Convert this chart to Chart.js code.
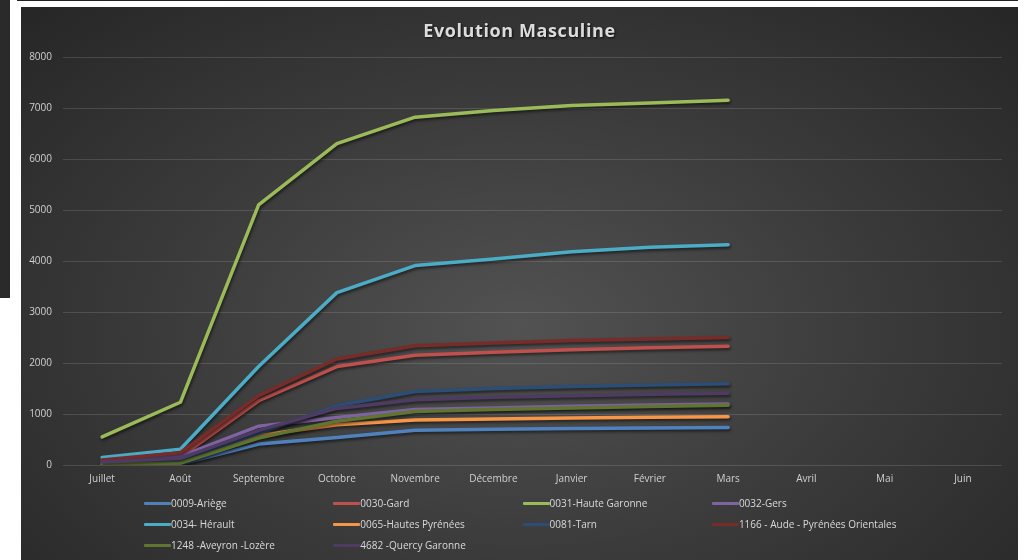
<!DOCTYPE html>
<html lang="fr">
<head>
<meta charset="utf-8">
<title>Evolution Masculine</title>
<script src="https://cdn.jsdelivr.net/npm/chart.js@4/dist/chart.umd.min.js"></script>
<style>
    html, body { margin: 0; padding: 0; background: #ffffff; }
    body { width: 1027px; height: 560px; position: relative; overflow: hidden; }
    #sideBar { position: absolute; left: 0; top: 0; width: 10px; height: 298px; background: #2a2a2a; }
    #topLine { position: absolute; left: 17px; top: 0; width: 1001px; height: 1px; background: #222222; }
    #panel {
        position: absolute; left: 21px; top: 7px; width: 997px; height: 553px;
        background: radial-gradient(ellipse farthest-corner at 50% 58%, #525252 0%, #3b3b3b 50%, #262626 100%);
    }
    #panel canvas { position: absolute; left: 0; top: 0; }
    #chartTitle {
        position: absolute; left: 0; top: 11px; width: 997px; text-align: center;
        font-family: "Open Sans", sans-serif; font-weight: bold; font-size: 18px; line-height: 24px;
        letter-spacing: 0.6px; color: #dcdcdc; text-shadow: 1px 1px 2px rgba(0, 0, 0, 0.75);
    }
    #legend { position: absolute; left: 123px; top: 487px; width: 800px; }
    .legend-item {
        position: absolute; height: 18px; line-height: 18px; white-space: nowrap;
        font-family: "Open Sans", sans-serif; font-size: 10px; color: #d9d9d9;
    }
    .legend-item span.swatch {
        display: inline-block; width: 27px; height: 3px; vertical-align: middle;
        position: relative; top: -1px; border-radius: 1px;
    }
</style>
</head>
<body>
<div id="sideBar"></div>
<div id="topLine"></div>
<div id="panel">
    <canvas id="evolutionChart" width="997" height="553"></canvas>
    <div id="chartTitle">Evolution Masculine</div>
    <div id="legend"></div>
</div>
<script>
// Mois (axe X)
const months = ['Juillet', 'Août', 'Septembre', 'Octobre', 'Novembre', 'Décembre', 'Janvier', 'Février', 'Mars', 'Avril', 'Mai', 'Juin'];

// Effectifs par département
const ariege         = [0, 20, 410, 540, 680, 700, 715, 725, 735, null, null, null];
const gard           = [60, 160, 1260, 1930, 2150, 2210, 2260, 2300, 2330, null, null, null];
const hauteGaronne   = [550, 1230, 5100, 6300, 6820, 6950, 7050, 7100, 7150, null, null, null];
const gers           = [70, 170, 760, 930, 1090, 1120, 1150, 1175, 1195, null, null, null];
const herault        = [145, 310, 1930, 3380, 3910, 4040, 4180, 4270, 4320, null, null, null];
const hautesPyrenees = [15, 50, 580, 790, 880, 900, 920, 935, 945, null, null, null];
const tarn           = [40, 100, 620, 1160, 1440, 1500, 1540, 1570, 1595, null, null, null];
const aude           = [100, 240, 1360, 2080, 2340, 2390, 2440, 2470, 2500, null, null, null];
const aveyron        = [20, 40, 530, 860, 1050, 1090, 1120, 1145, 1170, null, null, null];
const quercy         = [60, 130, 680, 1110, 1280, 1330, 1360, 1385, 1405, null, null, null];

const seriesNames = ['0009-Ariège', '0030-Gard', '0031-Haute Garonne', '0032-Gers', '0034- Hérault',
    '0065-Hautes Pyrénées', '0081-Tarn', '1166 - Aude - Pyrénées Orientales', '1248 -Aveyron -Lozère', '4682 -Quercy Garonne'];
const seriesValues = [ariege, gard, hauteGaronne, gers, herault, hautesPyrenees, tarn, aude, aveyron, quercy];
const seriesColors = ['#4f81bd', '#c0504d', '#9bbb59', '#8064a2', '#4bacc6', '#f79646', '#2c4d75', '#772c2a', '#5f7530', '#4d3b62'];

// Ombre portée des courbes (style Excel)
const lineShadow = {
    id: 'lineShadow',
    beforeDatasetsDraw(chart) {
        const ctx = chart.ctx;
        ctx.save();
        ctx.shadowColor = 'rgba(0, 0, 0, 0.55)';
        ctx.shadowBlur = 3;
        ctx.shadowOffsetX = 1;
        ctx.shadowOffsetY = 2;
    },
    afterDatasetsDraw(chart) {
        chart.ctx.restore();
    }
};

const datasets = seriesNames.map((name, i) => ({
    label: name,
    data: seriesValues[i],
    borderColor: seriesColors[i],
    backgroundColor: seriesColors[i],
    borderWidth: 3.5,
    pointRadius: 0,
    tension: 0,
    fill: false,
    borderJoinStyle: 'round',
    borderCapStyle: 'round',
    order: seriesNames.length - i
}));

new Chart(document.getElementById('evolutionChart'), {
    type: 'line',
    data: { labels: months, datasets: datasets },
    options: {
        responsive: false,
        animation: false,
        layout: { padding: { top: 50, left: 8, right: 16, bottom: 67 } },
        plugins: {
            legend: { display: false },
            tooltip: { enabled: false }
        },
        scales: {
            x: {
                offset: true,
                grid: { display: false, drawTicks: false },
                border: { display: false },
                ticks: {
                    color: '#d0d0d0',
                    font: { family: '"Open Sans", sans-serif', size: 10 },
                    padding: 8,
                    maxRotation: 0,
                    autoSkip: false
                }
            },
            y: {
                min: 0,
                max: 8000,
                afterFit(scale) { scale.width = 34; },
                grid: { color: 'rgba(255, 255, 255, 0.13)', drawTicks: false },
                border: { display: false },
                ticks: {
                    stepSize: 1000,
                    color: '#d0d0d0',
                    font: { family: '"Open Sans", sans-serif', size: 10 },
                    padding: 11,
                    callback: value => String(value)
                }
            }
        }
    },
    plugins: [lineShadow]
});

// Légende en colonnes, comme dans Excel
const legend = document.getElementById('legend');
seriesNames.forEach((name, i) => {
    const item = document.createElement('div');
    item.className = 'legend-item';
    item.style.left = (i % 4) * 189.3 + 'px';
    item.style.top = Math.floor(i / 4) * 21 + 'px';
    const swatch = document.createElement('span');
    swatch.className = 'swatch';
    swatch.style.background = seriesColors[i];
    item.appendChild(swatch);
    item.appendChild(document.createTextNode(name));
    legend.appendChild(item);
});
</script>
</body>
</html>
